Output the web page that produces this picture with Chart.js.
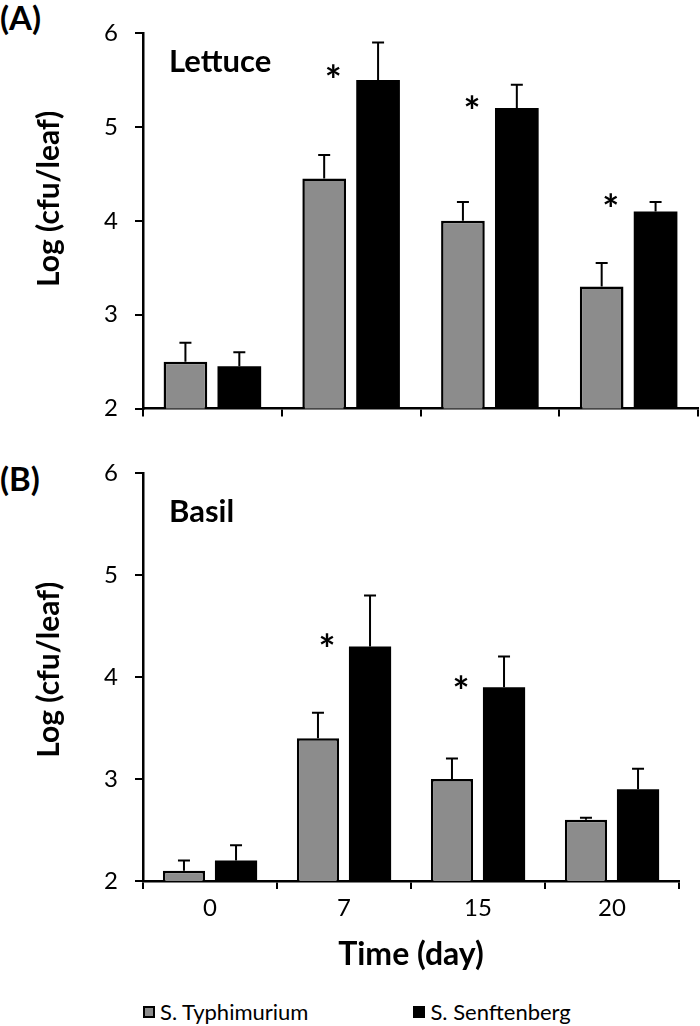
<!DOCTYPE html>
<html lang="en">
<head>
  <meta charset="UTF-8">
  <title>Lettuce and Basil cfu</title>
  <script src="https://cdn.jsdelivr.net/npm/chart.js"></script>
  <style>
    body { margin: 0; background: #fff; font-family: Lato, sans-serif; }
    .wrap { position: relative; width: 700px; height: 1026px; }
    canvas { position: absolute; left: 0; }
    .panel { position: absolute; left: 0; font-weight: bold; font-size: 33px; line-height: 36px; }
    .legend { position: absolute; top: 997px; left: 143px; font-size: 22px; line-height: 30px; display: flex; }
    .item { display: flex; align-items: center; }
    .sw { width: 12px; height: 12px; box-sizing: border-box; margin-right: 5px; }
  </style>
</head>
<body>
<div class="wrap">
  <div class="panel" style="top:-1px">(A)</div>
  <div class="panel" style="top:460px">(B)</div>
  <canvas id="chartA" width="700" height="440" style="top:0px"></canvas>
  <canvas id="chartB" width="700" height="540" style="top:440px"></canvas>
  <div class="legend">
    <div class="item"><span class="sw" style="background:#8c8c8c;border:2px solid #000"></span>S. Typhimurium</div>
    <div class="item" style="margin-left:105px"><span class="sw" style="background:#000"></span>S. Senftenberg</div>
  </div>
</div>

<script>
  // data
  const days = ['0', '7', '15', '20'];

  const lettuceTyphi = [2.5, 4.45, 4.0, 3.3];
  const lettuceTyphiErr = [0.2, 0.25, 0.2, 0.25];
  const lettuceSenft = [2.45, 5.5, 5.2, 4.1];
  const lettuceSenftErr = [0.15, 0.4, 0.25, 0.1];
  const lettuceStars = [null, 5.6, 5.27, 4.22];

  const basilTyphi = [2.1, 3.4, 3.0, 2.6];
  const basilTyphiErr = [0.1, 0.25, 0.2, 0.02];
  const basilSenft = [2.2, 4.3, 3.9, 2.9];
  const basilSenftErr = [0.15, 0.5, 0.3, 0.2];
  const basilStars = [null, 4.36, 3.95, null];

  const yTicks = [2, 3, 4, 5, 6];

  // error bars (upper only) + significance stars + crop name
  const extras = {
    id: 'extras',
    afterDatasetsDraw(chart, args, opts) {
      const ctx = chart.ctx;
      const y = chart.scales.y;
      ctx.save();
      chart.data.datasets.forEach((ds, di) => {
        const meta = chart.getDatasetMeta(di);
        meta.data.forEach((bar, i) => {
          const top = y.getPixelForValue(ds.data[i] + ds.errors[i]);
          ctx.strokeStyle = '#000';
          ctx.lineWidth = 2;
          ctx.beginPath();
          ctx.moveTo(bar.x, bar.y);
          ctx.lineTo(bar.x, top);
          ctx.moveTo(bar.x - 6, top);
          ctx.lineTo(bar.x + 6, top);
          ctx.stroke();
        });
      });

      // stars sit over the Typhimurium bars
      const gray = chart.getDatasetMeta(0);
      ctx.fillStyle = '#000';
      ctx.font = 'bold 40px Lato';
      ctx.textAlign = 'center';
      ctx.textBaseline = 'alphabetic';
      const m = ctx.measureText('*');
      opts.stars.forEach((v, i) => {
        if (v == null) return;
        const cy = y.getPixelForValue(v);
        const by = cy + (m.actualBoundingBoxAscent - m.actualBoundingBoxDescent) / 2;
        ctx.fillText('*', gray.data[i].x + 9, by);
      });

      ctx.font = 'bold 31px Lato';
      ctx.textAlign = 'left';
      ctx.textBaseline = 'middle';
      ctx.fillText(opts.label, chart.chartArea.left + opts.dx, chart.chartArea.top + opts.dy);
      ctx.restore();
    }
  };

  function makeChart(id, typhi, typhiErr, senft, senftErr, stars, label, dy, bottom, lift) {
    const canvas = document.getElementById(id);
    return new Chart(canvas, {
      type: 'bar',
      data: {
        labels: days,
        datasets: [
          {
            label: 'S. Typhimurium',
            data: typhi,
            errors: typhiErr,
            backgroundColor: '#8c8c8c',
            borderColor: '#000',
            borderWidth: 2.5,
            categoryPercentage: 0.777,
            barPercentage: 0.81
          },
          {
            label: 'S. Senftenberg',
            data: senft,
            errors: senftErr,
            backgroundColor: '#000',
            borderColor: '#000',
            borderWidth: 0,
            categoryPercentage: 0.777,
            barPercentage: 0.81
          }
        ]
      },
      options: {
        responsive: false,
        animation: false,
        events: [],
        layout: { padding: { left: 0, right: bottom ? 21 : 2, top: 33, bottom: 0 } },
        plugins: {
          legend: { display: false },
          tooltip: { enabled: false },
          extras: { stars: stars, label: label, dx: 26, dy: dy }
        },
        scales: {
          x: {
            offset: true,
            grid: { offset: true, drawOnChartArea: false, drawTicks: true, tickLength: 8, color: '#000', lineWidth: 2 },
            border: { display: true, color: '#000', width: 2.5 },
            ticks: { display: bottom, color: '#000', font: { family: 'Lato', size: 24 }, padding: 5 },
            title: {
              display: bottom,
              text: 'Time (day)',
              color: '#000',
              font: { family: 'Lato', size: 32, weight: 'bold' },
              padding: { top: 0, bottom: 6 }
            },
            afterFit(s) { s.height = canvas.height - (bottom ? 441 : 424); }
          },
          y: {
            min: 2,
            max: 6,
            afterBuildTicks(s) { s.ticks = yTicks.map(v => ({ value: v })); },
            grid: { drawOnChartArea: false, drawTicks: true, tickLength: 8, color: '#000', lineWidth: 2 },
            border: { display: true, color: '#000', width: 2.5 },
            ticks: { color: '#000', font: { family: 'Lato', size: 24 }, padding: 17 },
            title: {
              display: true,
              // leading spaces nudge the rotated title up like the original
              text: '\u00a0'.repeat(lift) + 'Log (cfu/leaf)',
              color: '#000',
              font: { family: 'Lato', size: 30, weight: 'bold' },
              padding: { top: 31, bottom: 0 }
            },
            afterFit(s) { s.width = 143; }
          }
        }
      },
      plugins: [extras]
    });
  }

  makeChart('chartA', lettuceTyphi, lettuceTyphiErr, lettuceSenft, lettuceSenftErr, lettuceStars, 'Lettuce', 29, false, 6);
  makeChart('chartB', basilTyphi, basilTyphiErr, basilSenft, basilSenftErr, basilStars, 'Basil', 39, true, 2);
</script>
</body>
</html>
